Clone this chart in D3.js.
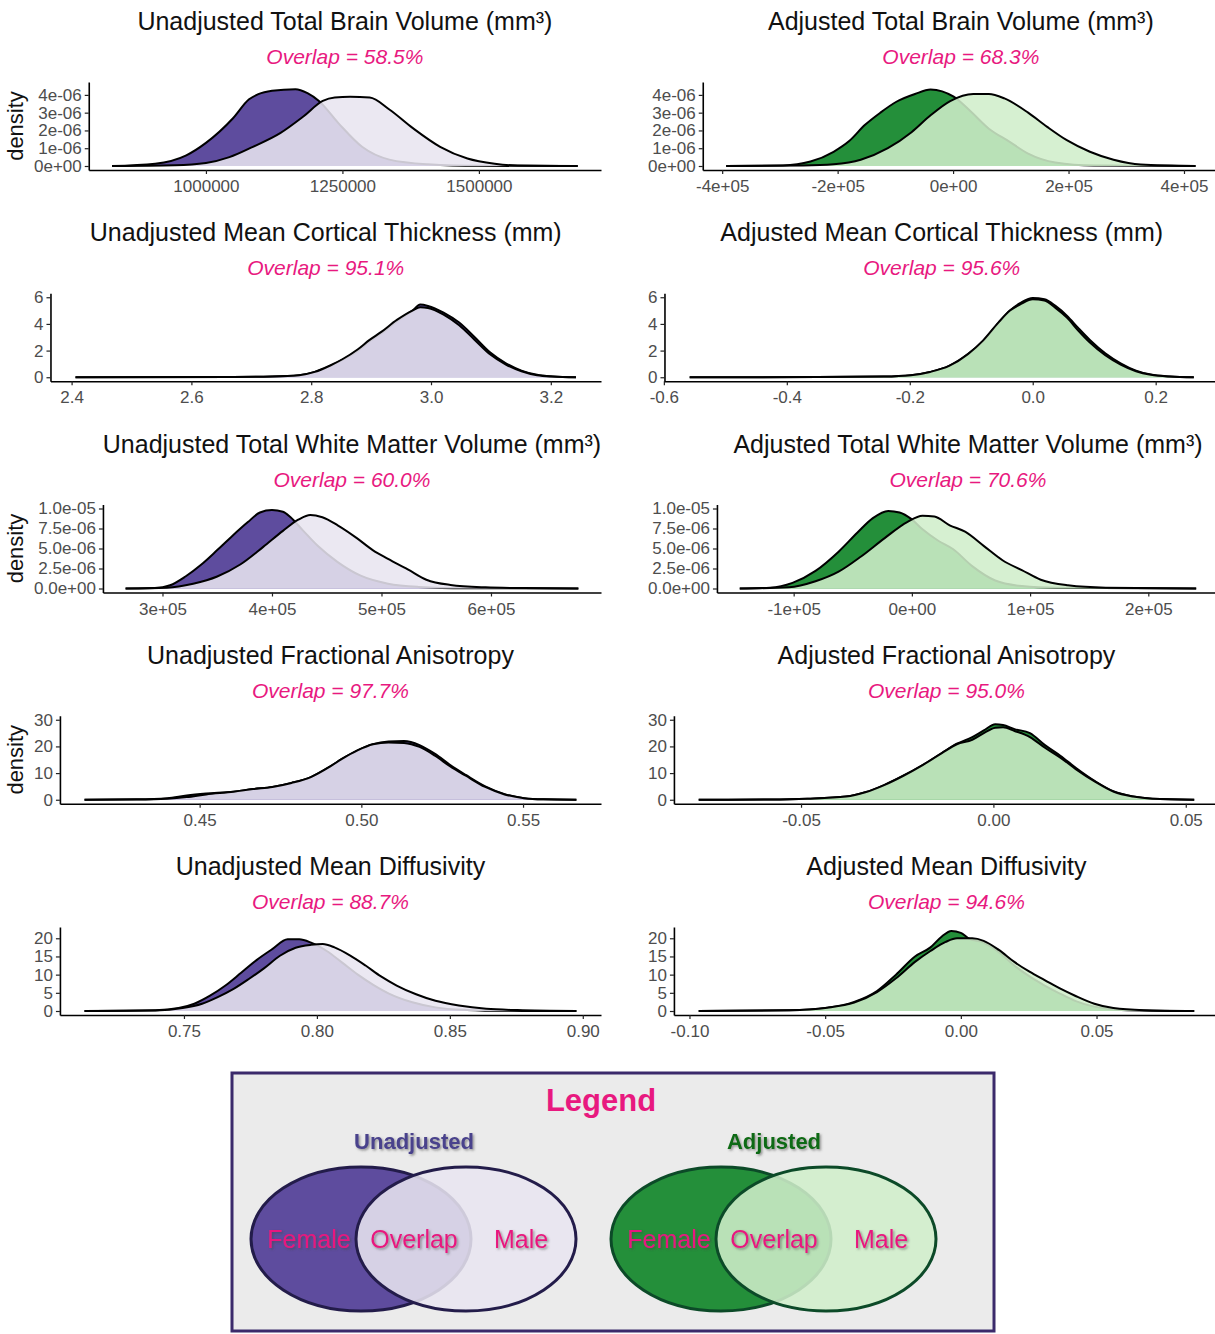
<!DOCTYPE html>
<html>
<head>
<meta charset="utf-8">
<script src="https://cdn.jsdelivr.net/npm/d3@7"></script>
<style>
body { margin: 0; background: #fff; }
text { font-family: "Liberation Sans", Arial, Helvetica, sans-serif; }
</style>
</head>
<body>
<svg id="chart" width="1215" height="1334"></svg>
<script>
// ---- data ----
var titles = [
	"Unadjusted Total Brain Volume (mm³)", "Adjusted Total Brain Volume (mm³)",
	"Unadjusted Mean Cortical Thickness (mm)", "Adjusted Mean Cortical Thickness (mm)",
	"Unadjusted Total White Matter Volume (mm³)", "Adjusted Total White Matter Volume (mm³)",
	"Unadjusted Fractional Anisotropy", "Adjusted Fractional Anisotropy",
	"Unadjusted Mean Diffusivity", "Adjusted Mean Diffusivity"
];
var overlaps = ["58.5%", "68.3%", "95.1%", "95.6%", "60.0%", "70.6%", "97.7%", "95.0%", "88.7%", "94.6%"];
var showDensityLabel = [true, false, false, false, true, false, true, false, false, false];

var yLimits = [4.5e-6, 4.5e-6, 6, 6, 1e-5, 1e-5, 30, 30, 22, 22];
var yTicks = [
	[0, 1e-6, 2e-6, 3e-6, 4e-6], [0, 1e-6, 2e-6, 3e-6, 4e-6],
	[0, 2, 4, 6], [0, 2, 4, 6],
	[0, 2.5e-6, 5e-6, 7.5e-6, 1e-5], [0, 2.5e-6, 5e-6, 7.5e-6, 1e-5],
	[0, 10, 20, 30], [0, 10, 20, 30],
	[0, 5, 10, 15, 20], [0, 5, 10, 15, 20]
];
var yTickLabels = [
	["0e+00", "1e-06", "2e-06", "3e-06", "4e-06"], ["0e+00", "1e-06", "2e-06", "3e-06", "4e-06"],
	["0", "2", "4", "6"], ["0", "2", "4", "6"],
	["0.0e+00", "2.5e-06", "5.0e-06", "7.5e-06", "1.0e-05"], ["0.0e+00", "2.5e-06", "5.0e-06", "7.5e-06", "1.0e-05"],
	["0", "10", "20", "30"], ["0", "10", "20", "30"],
	["0", "5", "10", "15", "20"], ["0", "5", "10", "15", "20"]
];
var xTicks = [
	[1000000, 1250000, 1500000], [-4e5, -2e5, 0, 2e5, 4e5],
	[2.4, 2.6, 2.8, 3.0, 3.2], [-0.6, -0.4, -0.2, 0, 0.2],
	[3e5, 4e5, 5e5, 6e5], [-1e5, 0, 1e5, 2e5],
	[0.45, 0.50, 0.55], [-0.05, 0, 0.05],
	[0.75, 0.80, 0.85, 0.90], [-0.10, -0.05, 0, 0.05]
];
var xTickLabels = [
	["1000000", "1250000", "1500000"], ["-4e+05", "-2e+05", "0e+00", "2e+05", "4e+05"],
	["2.4", "2.6", "2.8", "3.0", "3.2"], ["-0.6", "-0.4", "-0.2", "0.0", "0.2"],
	["3e+05", "4e+05", "5e+05", "6e+05"], ["-1e+05", "0e+00", "1e+05", "2e+05"],
	["0.45", "0.50", "0.55"], ["-0.05", "0.00", "0.05"],
	["0.75", "0.80", "0.85", "0.90"], ["-0.10", "-0.05", "0.00", "0.05"]
];

// density curves [value, density]
var tbvRawFemale = [[828e3,0],[907e3,0.13e-6],[964e3,0.6e-6],[1000e3,1.3e-6],[1050e3,2.7e-6],[1079e3,3.75e-6],[1096e3,4.04e-6],[1121e3,4.23e-6],[1164e3,4.32e-6],[1186e3,4.1e-6],[1207e3,3.66e-6],[1243e3,2.4e-6],[1286e3,1.08e-6],[1336e3,0.36e-6],[1407e3,0.1e-6],[1500e3,0.01e-6],[1681e3,0]];
var tbvRawMale = [[828e3,0],[943e3,0.04e-6],[1000e3,0.17e-6],[1043e3,0.5e-6],[1086e3,1.08e-6],[1136e3,1.85e-6],[1179e3,2.8e-6],[1214e3,3.66e-6],[1236e3,3.85e-6],[1264e3,3.89e-6],[1300e3,3.85e-6],[1336e3,3.18e-6],[1379e3,2.13e-6],[1429e3,1.08e-6],[1479e3,0.42e-6],[1529e3,0.13e-6],[1571e3,0.03e-6],[1681e3,0]];
var tbvAdjFemale = [[-393e3,0],[-295e3,0.03e-6],[-247e3,0.25e-6],[-207e3,0.8e-6],[-180e3,1.4e-6],[-153e3,2.3e-6],[-126e3,3.0e-6],[-99e3,3.6e-6],[-66e3,4.05e-6],[-39e3,4.3e-6],[-19e3,4.2e-6],[1e3,3.9e-6],[28e3,3.15e-6],[62e3,2.1e-6],[96e3,1.4e-6],[130e3,0.7e-6],[177e3,0.2e-6],[244e3,0.03e-6],[420e3,0]];
var tbvAdjMale = [[-393e3,0],[-260e3,0.03e-6],[-207e3,0.1e-6],[-160e3,0.35e-6],[-113e3,1.0e-6],[-72e3,1.9e-6],[-39e3,2.85e-6],[-5e3,3.65e-6],[35e3,4.05e-6],[62e3,4.05e-6],[89e3,3.8e-6],[130e3,3.0e-6],[163e3,2.2e-6],[197e3,1.45e-6],[237e3,0.8e-6],[278e3,0.35e-6],[325e3,0.08e-6],[420e3,0]];
var ctRawFemale = [[2.4065,0],[2.67,0.02],[2.735,0.05],[2.78,0.15],[2.806,0.4],[2.8325,0.85],[2.852,1.3],[2.878,2.0],[2.8975,2.7],[2.917,3.3],[2.943,4.2],[2.969,5.0],[2.982,5.45],[2.995,5.35],[3.021,4.85],[3.047,4.1],[3.073,3.0],[3.099,1.85],[3.125,1.05],[3.151,0.5],[3.177,0.18],[3.203,0.06],[3.242,0]];
var ctRawMale = [[2.4065,0],[2.67,0.02],[2.735,0.05],[2.78,0.15],[2.806,0.4],[2.8325,0.9],[2.852,1.35],[2.878,2.1],[2.8975,2.8],[2.917,3.4],[2.943,4.3],[2.969,5.0],[2.982,5.25],[2.995,5.2],[3.021,4.7],[3.047,3.9],[3.073,2.8],[3.099,1.7],[3.125,0.95],[3.151,0.45],[3.177,0.15],[3.203,0.05],[3.242,0]];
var ctAdjFemale = [[-0.558,0],[-0.35,0.01],[-0.242,0.05],[-0.198,0.15],[-0.167,0.4],[-0.136,0.85],[-0.105,1.75],[-0.081,2.7],[-0.056,4.05],[-0.037,5.0],[-0.019,5.6],[0,5.95],[0.019,5.85],[0.037,5.35],[0.056,4.6],[0.074,3.7],[0.093,2.8],[0.118,1.8],[0.143,1.05],[0.168,0.5],[0.192,0.2],[0.223,0.06],[0.262,0]];
var ctAdjMale = [[-0.558,0],[-0.35,0.01],[-0.242,0.05],[-0.198,0.15],[-0.167,0.4],[-0.136,0.85],[-0.105,1.75],[-0.081,2.75],[-0.056,4.1],[-0.037,5.0],[-0.019,5.5],[0,5.85],[0.019,5.75],[0.037,5.2],[0.056,4.45],[0.074,3.5],[0.093,2.6],[0.118,1.65],[0.143,0.95],[0.168,0.45],[0.192,0.18],[0.223,0.05],[0.262,0]];
var wmRawFemale = [[2.663e5,0],[2.93e5,0.05e-6],[3.07e5,0.4e-6],[3.21e5,1.5e-6],[3.355e5,3.0e-6],[3.50e5,4.8e-6],[3.64e5,6.6e-6],[3.78e5,8.3e-6],[3.89e5,9.5e-6],[4.0e5,9.8e-6],[4.10e5,9.6e-6],[4.17e5,8.9e-6],[4.28e5,7.3e-6],[4.42e5,5.3e-6],[4.60e5,3.3e-6],[4.81e5,1.6e-6],[5.06e5,0.6e-6],[5.34e5,0.2e-6],[5.77e5,0.03e-6],[6.798e5,0]];
var wmRawMale = [[2.663e5,0],[3.04e5,0.1e-6],[3.28e5,0.6e-6],[3.50e5,1.5e-6],[3.71e5,3.0e-6],[3.92e5,5.2e-6],[4.10e5,7.2e-6],[4.24e5,8.6e-6],[4.35e5,9.2e-6],[4.46e5,8.9e-6],[4.60e5,7.9e-6],[4.775e5,6.3e-6],[4.92e5,4.8e-6],[5.06e5,3.7e-6],[5.24e5,2.4e-6],[5.41e5,1.1e-6],[5.63e5,0.45e-6],[5.95e5,0.15e-6],[6.30e5,0.05e-6],[6.798e5,0]];
var wmAdjFemale = [[-1.456e5,0],[-1.2e5,0.1e-6],[-1.01e5,0.7e-6],[-0.815e5,2.2e-6],[-0.62e5,4.6e-6],[-0.46e5,7.0e-6],[-0.33e5,8.8e-6],[-0.2e5,9.7e-6],[-0.104e5,9.5e-6],[-0.006e5,8.7e-6],[0.09e5,7.4e-6],[0.22e5,6.0e-6],[0.35e5,4.9e-6],[0.51e5,2.8e-6],[0.705e5,1.0e-6],[0.93e5,0.3e-6],[1.22e5,0.08e-6],[2.405e5,0]];
var wmAdjMale = [[-1.456e5,0],[-1.04e5,0.15e-6],[-0.815e5,0.9e-6],[-0.62e5,2.1e-6],[-0.43e5,4.0e-6],[-0.23e5,6.3e-6],[-0.04e5,8.3e-6],[0.09e5,9.1e-6],[0.19e5,9.0e-6],[0.32e5,7.9e-6],[0.45e5,7.1e-6],[0.61e5,5.3e-6],[0.77e5,3.5e-6],[0.93e5,2.3e-6],[1.09e5,1.1e-6],[1.32e5,0.4e-6],[1.64e5,0.1e-6],[2.405e5,0]];
var faRawFemale = [[0.4144,0],[0.4305,0.15],[0.440,0.6],[0.446,1.6],[0.452,2.3],[0.4605,3.0],[0.4665,4.0],[0.4725,4.8],[0.4784,6.3],[0.4844,8.5],[0.4904,12.5],[0.494,15.3],[0.4988,18.5],[0.5036,20.8],[0.5084,21.8],[0.5132,22.0],[0.518,20.5],[0.5228,17.2],[0.5275,13.0],[0.5323,9.3],[0.5383,5.0],[0.5443,2.1],[0.5503,0.6],[0.5563,0.15],[0.5665,0]];
var faRawMale = [[0.4144,0],[0.4305,0.1],[0.440,0.4],[0.446,1.0],[0.452,2.0],[0.4605,3.0],[0.4665,4.0],[0.4725,4.8],[0.4784,6.3],[0.4844,8.5],[0.4904,12.5],[0.494,15.3],[0.4988,18.5],[0.5036,20.8],[0.5084,21.5],[0.5132,21.3],[0.518,19.8],[0.5228,16.5],[0.5275,12.5],[0.5323,9.0],[0.5383,4.8],[0.5443,2.0],[0.5503,0.6],[0.5563,0.15],[0.5665,0]];
var faAdjFemale = [[-0.0766,0],[-0.0582,0.1],[-0.0483,0.4],[-0.0383,1.2],[-0.0333,2.8],[-0.0284,5.5],[-0.0234,9.0],[-0.0184,13.0],[-0.0134,17.5],[-0.0095,21.0],[-0.0055,23.5],[-0.0025,26.0],[0.0005,28.3],[0.0025,28.0],[0.0055,26.5],[0.0095,25.0],[0.0134,20.5],[0.0174,16.5],[0.0214,12.0],[0.0264,7.0],[0.0313,3.1],[0.0363,1.2],[0.0413,0.4],[0.0522,0]];
var faAdjMale = [[-0.0766,0],[-0.0582,0.1],[-0.0483,0.4],[-0.0383,1.2],[-0.0333,2.8],[-0.0284,5.5],[-0.0234,9.0],[-0.0184,13.0],[-0.0134,17.5],[-0.0095,20.8],[-0.0055,22.5],[-0.0025,25.0],[0.0005,27.0],[0.0025,27.2],[0.0055,25.8],[0.0095,23.5],[0.0134,19.5],[0.0174,15.8],[0.0214,11.5],[0.0264,6.8],[0.0313,3.0],[0.0363,1.2],[0.0413,0.4],[0.0522,0]];
var mdRawFemale = [[0.7126,0],[0.7393,0.2],[0.748,0.8],[0.7539,2.0],[0.7598,4.2],[0.7656,7.0],[0.7715,10.5],[0.7773,14.0],[0.7832,17.0],[0.789,19.7],[0.7934,19.7],[0.7978,18.8],[0.8037,16.5],[0.8095,13.3],[0.8154,10.0],[0.8212,7.2],[0.8271,4.8],[0.8359,2.4],[0.8446,1.0],[0.8563,0.3],[0.871,0.05],[0.8976,0]];
var mdRawMale = [[0.7126,0],[0.7393,0.15],[0.7495,0.8],[0.7568,2.0],[0.7627,3.8],[0.7685,6.0],[0.7744,8.8],[0.7802,11.8],[0.7861,15.2],[0.792,17.4],[0.7978,18.2],[0.8022,18.4],[0.8066,17.5],[0.8124,15.3],[0.8183,12.5],[0.8241,9.5],[0.83,7.0],[0.8373,4.6],[0.8446,2.8],[0.8534,1.5],[0.8637,0.6],[0.8754,0.25],[0.8976,0]];
var mdAdjFemale = [[-0.0966,0],[-0.0632,0.2],[-0.0492,0.9],[-0.0393,2.5],[-0.0309,5.5],[-0.0239,10.0],[-0.0169,15.0],[-0.0112,17.5],[-0.007,20.5],[-0.0035,22.0],[0,21.5],[0.0028,20.0],[0.0084,18.8],[0.014,16.2],[0.0197,12.5],[0.0253,9.5],[0.0309,7.0],[0.0365,4.8],[0.0421,2.8],[0.0492,1.2],[0.059,0.3],[0.086,0]];
var mdAdjMale = [[-0.0966,0],[-0.0632,0.2],[-0.0492,0.9],[-0.0393,2.3],[-0.0309,5.2],[-0.0239,9.0],[-0.0169,13.5],[-0.0112,16.5],[-0.0056,19.0],[-0.0014,20.0],[0.0042,20.0],[0.0084,19.3],[0.014,16.8],[0.0197,13.5],[0.0253,10.8],[0.0309,8.5],[0.0365,6.2],[0.0421,4.2],[0.0492,2.0],[0.0562,0.8],[0.0674,0.2],[0.086,0]];

var femaleSeries = [tbvRawFemale, tbvAdjFemale, ctRawFemale, ctAdjFemale, wmRawFemale, wmAdjFemale, faRawFemale, faAdjFemale, mdRawFemale, mdAdjFemale];
var maleSeries = [tbvRawMale, tbvAdjMale, ctRawMale, ctAdjMale, wmRawMale, wmAdjMale, faRawMale, faAdjMale, mdRawMale, mdAdjMale];

var legendGroups = ["Unadjusted", "Adjusted"];
var legendLabels = ["Female", "Overlap", "Male"];

// ---- styles ----
var femaleFill = ["#5e4c9e", "#248f3a"];
var maleFill = ["#e8e5f0", "#d0eeca"];
var maleOpacity = 0.87;
var pink = "#e8197f";
var tickColor = "#4d4d4d";

var svg = d3.select("#chart");

var rowPitch = 211.25,
	panelH = 88,
	colLabelStart = [34, 648],
	colRight = [601, 1219];

function drawPanel(i) {
	var col = i % 2, row = Math.floor(i / 2);
	var rowTop = row * rowPitch;
	var bottom = rowTop + 170;
	var g = svg.append("g");

	// measure y tick labels to place the y axis
	var probe = g.append("g").style("font-size", "17px");
	var maxW = 0;
	yTickLabels[i].forEach(function(s) {
		var t = probe.append("text").text(s);
		maxW = Math.max(maxW, t.node().getComputedTextLength());
	});
	probe.remove();
	var left = colLabelStart[col] + maxW + 7;
	var right = colRight[col];

	var all = femaleSeries[i].concat(maleSeries[i]);
	var ext = d3.extent(all, function(d) { return d[0]; });
	var pad = (ext[1] - ext[0]) * 0.05;
	var x = d3.scaleLinear().domain([ext[0] - pad, ext[1] + pad]).range([left, right]);
	var y = d3.scaleLinear().domain([-0.05 * yLimits[i], 1.05 * yLimits[i]]).range([bottom, bottom - panelH]);

	var area = d3.area().x(function(d) { return x(d[0]); }).y0(y(0)).y1(function(d) { return y(d[1]); }).curve(d3.curveMonotoneX);
	var line = d3.line().x(function(d) { return x(d[0]); }).y(function(d) { return y(d[1]); }).curve(d3.curveMonotoneX);

	g.append("path").datum(femaleSeries[i]).attr("d", area).attr("fill", femaleFill[col]);
	g.append("path").datum(femaleSeries[i]).attr("d", line).attr("fill", "none").attr("stroke", "#000").attr("stroke-width", 2);
	g.append("path").datum(maleSeries[i]).attr("d", area).attr("fill", maleFill[col]).attr("fill-opacity", maleOpacity);
	g.append("path").datum(maleSeries[i]).attr("d", line).attr("fill", "none").attr("stroke", "#000").attr("stroke-width", 2);

	var xAxis = d3.axisBottom(x).tickValues(xTicks[i]).tickFormat(function(d, k) { return xTickLabels[i][k]; })
		.tickSize(4).tickSizeOuter(0).tickPadding(6);
	var yAxis = d3.axisLeft(y).tickValues(yTicks[i]).tickFormat(function(d, k) { return yTickLabels[i][k]; })
		.tickSize(4).tickSizeOuter(0).tickPadding(3);

	var gx = g.append("g").attr("transform", "translate(0," + bottom + ")").call(xAxis);
	var gy = g.append("g").attr("transform", "translate(" + left + ",0)").call(yAxis);
	[gx, gy].forEach(function(a) {
		a.select(".domain").attr("stroke", "#000").attr("stroke-width", 1.6);
		a.selectAll(".tick line").attr("stroke", "#222").attr("stroke-width", 1.2);
		a.selectAll(".tick text").attr("fill", tickColor).style("font-size", "17px")
			.style("font-family", "'Liberation Sans', Arial, sans-serif");
	});

	var cx = (left + right) / 2;
	g.append("text").attr("x", cx).attr("y", rowTop + 30).attr("text-anchor", "middle")
		.style("font-size", "25px").attr("fill", "#111").text(titles[i]);
	g.append("text").attr("x", cx).attr("y", rowTop + 64).attr("text-anchor", "middle")
		.style("font-size", "21px").style("font-style", "italic").attr("fill", pink)
		.text("Overlap = " + overlaps[i]);

	if (showDensityLabel[i]) {
		g.append("text").attr("transform", "translate(23," + (bottom - panelH / 2) + ") rotate(-90)")
			.attr("text-anchor", "middle").style("font-size", "22px").attr("fill", "#111").text("density");
	}
}

for (var i = 0; i < titles.length; i++) drawPanel(i);

// ---- legend ----
var defs = svg.append("defs");
var f = defs.append("filter").attr("id", "shadow").attr("x", "-10%").attr("y", "-10%").attr("width", "130%").attr("height", "140%");
f.append("feDropShadow").attr("dx", 1.5).attr("dy", 1.5).attr("stdDeviation", 1).attr("flood-color", "#444").attr("flood-opacity", 0.55);

var lg = svg.append("g");
lg.append("rect").attr("x", 232).attr("y", 1073).attr("width", 762).attr("height", 258)
	.attr("fill", "#ebebeb").attr("stroke", "#3b2a6b").attr("stroke-width", 3);
lg.append("text").attr("x", 601).attr("y", 1111).attr("text-anchor", "middle")
	.style("font-size", "31px").style("font-weight", "bold").attr("fill", pink).text("Legend");

var groupCx = [414, 774];
var groupTitleColor = ["#4a428c", "#0e6b12"];
var ellipseStroke = ["#231c4a", "#0c4a28"];

legendGroups.forEach(function(name, k) {
	var gc = groupCx[k];
	lg.append("text").attr("x", gc).attr("y", 1149).attr("text-anchor", "middle")
		.style("font-size", "22px").style("font-weight", "bold").attr("fill", groupTitleColor[k])
		.attr("filter", "url(#shadow)").text(name);
	lg.append("ellipse").attr("cx", gc - 53).attr("cy", 1239).attr("rx", 110).attr("ry", 72)
		.attr("fill", femaleFill[k]).attr("stroke", ellipseStroke[k]).attr("stroke-width", 3);
	lg.append("ellipse").attr("cx", gc + 52).attr("cy", 1239).attr("rx", 110).attr("ry", 72)
		.attr("fill", maleFill[k]).attr("fill-opacity", maleOpacity)
		.attr("stroke", ellipseStroke[k]).attr("stroke-width", 3);
	var offs = [-105, 0, 107];
	legendLabels.forEach(function(lab, j) {
		lg.append("text").attr("x", gc + offs[j]).attr("y", 1248).attr("text-anchor", "middle")
			.style("font-size", "25px").attr("fill", pink).attr("filter", "url(#shadow)").text(lab);
	});
});
</script>
</body>
</html>
